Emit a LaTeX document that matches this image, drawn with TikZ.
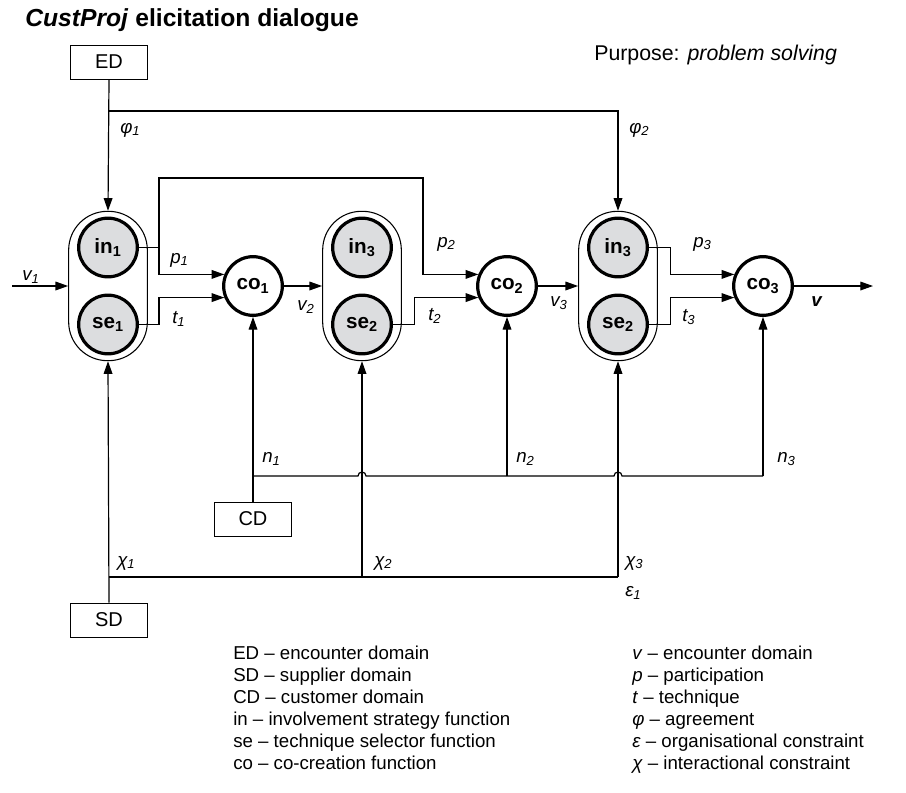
\documentclass[tikz,border=0pt]{standalone}
\usepackage{fontspec}
\setmainfont{Liberation Sans}
\usetikzlibrary{arrows.meta,positioning,calc}
\definecolor{cpgrey}{RGB}{220,221,223}
\tikzset{
  cpgroup/.style={
    rectangle, rounded corners=29pt, draw=black, line width=0.8pt,
    minimum width=59pt, minimum height=112pt, inner sep=0pt
  },
  cpfunc/.style={
    circle, draw=black, fill=cpgrey, line width=2.4pt,
    minimum size=44pt, inner sep=0pt, font=\fontsize{15.5}{15.5}\selectfont\bfseries
  },
  cpco/.style={cpfunc,fill=white},
  cpdomain/.style={
    rectangle, draw=black, line width=0.6pt,
    minimum width=57.5pt, minimum height=25.5pt, font=\fontsize{15}{15}\selectfont
  },
  cpedge/.style={-{Triangle[length=9.5pt,width=6.5pt]},line width=0.9pt},
  cpline/.style={line width=0.9pt},
  cplabel/.style={anchor=west,inner sep=0pt,font=\fontsize{14}{14}\selectfont\itshape},
  cplegend/.style={anchor=base west,inner sep=0pt,font=\fontsize{14}{14}\selectfont}
}
\newcommand{\cpsub}[1]{\textsubscript{#1}}

\begin{document}
\begin{tikzpicture}[x=0.75pt,y=-0.75pt]
  \useasboundingbox (0,0) rectangle (906,792);
  % Heading
  \node[anchor=west,inner sep=0pt,font=\fontsize{18.5}{18.5}\selectfont\bfseries] (title) at (25,20) {\textit{CustProj} elicitation dialogue};
  \node[anchor=west,inner sep=0pt,font=\fontsize{16}{16}\selectfont] (purpose) at (594,55) {Purpose: \textit{problem solving}};

  % Domains
  \node[cpdomain] (ed) at (109,62) {ED};
  \node[cpdomain] (cd) at (253,519) {CD};
  \node[cpdomain] (sd) at (109,620) {SD};

  % Function groups
  \node[cpgroup] (gA) at (108,286) {};
  \node[cpgroup] (gB) at (362,286) {};
  \node[cpgroup] (gC) at (618,286) {};
  \node[cpfunc] (in1) at (108,247.5) {in\cpsub{1}};
  \node[cpfunc] (se1) at (108,324.5) {se\cpsub{1}};
  \node[cpfunc] (in2) at (362,247.5) {in\cpsub{3}};
  \node[cpfunc] (se2) at (362,324.5) {se\cpsub{2}};
  \node[cpfunc] (in3) at (618,247.5) {in\cpsub{3}};
  \node[cpfunc] (se3) at (618,324.5) {se\cpsub{2}};
  \node[cpco] (co1) at (253,286) {co\cpsub{1}};
  \node[cpco] (co2) at (507,286) {co\cpsub{2}};
  \node[cpco] (co3) at (763,286) {co\cpsub{3}};

  \coordinate (vin) at (12,286);
  \coordinate (vout) at (873,286);
  \coordinate (phirow) at (0,111);
  \coordinate (pbend) at (423,178);
  \coordinate (nrow) at (0,476);
  \coordinate (xrow) at (0,577);

  % Agreement
  \draw[cpedge] (ed.south) -- (gA.north);
  \draw[cpedge] (ed.south |- phirow) -| (gC.north);

  % Main flow
  \draw[cpedge] (vin) -- (gA.west);
  \draw[cpedge] (co1.east) -- (gB.west);
  \draw[cpedge] (co2.east) -- (gC.west);
  \draw[cpedge] (co3.east) -- (vout);

  % Participation and technique
  \draw[cpedge] (in1.east) -- ++(15pt,0) |- (co1.158);
  \draw[cpedge] (in1.east) -- ++(15pt,0) |- (pbend) |- (co2.158);
  \draw[cpedge] (se1.east) -- ++(15pt,0) |- (co1.202);
  \draw[cpedge] (se2.east) -- ++(16pt,0) |- (co2.202);
  \draw[cpedge] (in3.east) -- ++(16pt,0) |- (co3.158);
  \draw[cpedge] (se3.east) -- ++(16pt,0) |- (co3.202);

  % Customer domain
  \draw[cpedge] (cd.north) -- (co1.south);
  \draw[cpline] (cd.north |- nrow) -- ($(gB.south |- nrow)+(-4,0)$) arc[start angle=180,end angle=0,radius=3pt]
    -- ($(gC.south |- nrow)+(-4,0)$) arc[start angle=180,end angle=0,radius=3pt] -- (co3.south |- nrow);
  \draw[cpedge] (co2.south |- nrow) -- (co2.south);
  \draw[cpedge] (co3.south |- nrow) -- (co3.south);

  % Supplier domain
  \draw[cpedge] (sd.north) -- (gA.south);
  \draw[cpline] (sd.north |- xrow) -- (gC.south |- xrow);
  \draw[cpedge] (gB.south |- xrow) -- (gB.south);
  \draw[cpedge] (gC.south |- xrow) -- (gC.south);

  % Connector labels
  \node[cplabel] (lphi1) at (120,130) {φ\cpsub{1}};
  \node[cplabel] (lphi2) at (629,130) {φ\cpsub{2}};
  \node[cplabel] (lv1) at (22,277) {v\cpsub{1}};
  \node[cplabel] (lp1) at (170,260) {p\cpsub{1}};
  \node[cplabel] (lt1) at (172,319) {t\cpsub{1}};
  \node[cplabel] (lv2) at (297,307) {v\cpsub{2}};
  \node[cplabel] (lp2) at (437,244) {p\cpsub{2}};
  \node[cplabel] (lt2) at (428,316) {t\cpsub{2}};
  \node[cplabel] (lv3) at (550,303) {v\cpsub{3}};
  \node[cplabel] (lp3) at (693,244) {p\cpsub{3}};
  \node[cplabel] (lt3) at (682,317) {t\cpsub{3}};
  \node[cplabel,font=\fontsize{14}{14}\selectfont\bfseries\itshape] (lv) at (811,302) {v};
  \node[cplabel] (ln1) at (262,459) {n\cpsub{1}};
  \node[cplabel] (ln2) at (516,459) {n\cpsub{2}};
  \node[cplabel] (ln3) at (777,459) {n\cpsub{3}};
  \node[cplabel] (lchi1) at (117,563) {χ\cpsub{1}};
  \node[cplabel] (lchi2) at (374,563) {χ\cpsub{2}};
  \node[cplabel] (lchi3) at (625,563) {χ\cpsub{3}};
  \node[cplabel] (leps1) at (625,593) {ε\cpsub{1}};

  % Legend
  \node[cplegend] (legED) at (233,659) {ED – encounter domain};
  \node[cplegend] (legSD) at (233,681) {SD – supplier domain};
  \node[cplegend] (legCD) at (233,703) {CD – customer domain};
  \node[cplegend] (legin) at (233,725) {in – involvement strategy function};
  \node[cplegend] (legse) at (233,747) {se – technique selector function};
  \node[cplegend] (legco) at (233,769) {co – co-creation function};
  \node[cplegend] (legv) at (632,659) {\textit{v} – encounter domain};
  \node[cplegend] (legp) at (632,681) {\textit{p} – participation};
  \node[cplegend] (legt) at (632,703) {\textit{t} – technique};
  \node[cplegend] (legphi) at (632,725) {\textit{φ} – agreement};
  \node[cplegend] (legeps) at (632,747) {\textit{ε} – organisational constraint};
  \node[cplegend] (legchi) at (632,769) {\textit{χ} – interactional constraint};
\end{tikzpicture}
\end{document}
